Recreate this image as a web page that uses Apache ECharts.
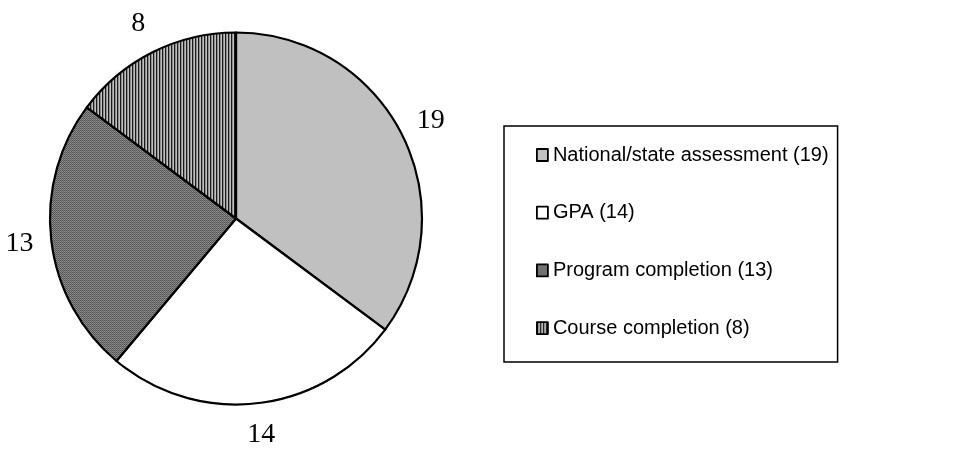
<!DOCTYPE html>
<html>
<head>
<meta charset="utf-8">
<script src="https://cdn.jsdelivr.net/npm/echarts@6/dist/echarts.min.js"></script>
<style>
html,body{margin:0;padding:0;background:#fff;}
#chart{width:956px;height:452px;}
</style>
</head>
<body>
<div id="chart"></div>
<script>
const categories = ['National/state assessment (19)', 'GPA (14)', 'Program completion (13)', 'Course completion (8)'];
const values = [19, 14, 13, 8];

function makePattern(w, h, pixels) {
  const c = document.createElement('canvas');
  c.width = w; c.height = h;
  const ctx = c.getContext('2d');
  for (let y = 0; y < h; y++) {
    for (let x = 0; x < w; x++) {
      ctx.fillStyle = pixels[y][x];
      ctx.fillRect(x, y, 1, 1);
    }
  }
  return { image: c, repeat: 'repeat' };
}

const stripes = makePattern(3, 1, [['#1a1a1a', '#8e8e8e', '#c0c0c0']]);
const dots = makePattern(4, 4, [
  ['#505050', '#808080', '#505050', '#808080'],
  ['#959595', '#606060', '#959595', '#606060'],
  ['#505050', '#808080', '#505050', '#808080'],
  ['#959595', '#606060', '#959595', '#606060']
]);
const fills = ['#c0c0c0', '#ffffff', dots, stripes];

const pieData = categories.map((name, i) => ({
  name: name,
  value: values[i],
  itemStyle: { color: fills[i] }
}));

const chart = echarts.init(document.getElementById('chart'), null, { renderer: 'canvas' });
chart.setOption({
  animation: false,
  backgroundColor: '#ffffff',
  legend: {
    data: categories,
    orient: 'vertical',
    left: 504,
    top: 126,
    padding: [19, 9, 24, 32],
    itemGap: 37.7,
    itemWidth: 11,
    itemHeight: 12,
    icon: 'rect',
    borderColor: '#000',
    borderWidth: 1.5,
    itemStyle: { borderColor: '#000', borderWidth: 1.8 },
    textStyle: { fontFamily: 'Liberation Sans, Arial, sans-serif', fontSize: 20, color: '#000', lineHeight: 20 },
    selectedMode: false
  },
  series: [
    {
      type: 'pie',
      center: [236, 218.5],
      radius: [0, 186],
      startAngle: 90,
      clockwise: true,
      silent: true,
      data: pieData,
      itemStyle: { borderColor: '#000', borderWidth: 2.2 },
      label: { show: false },
      labelLine: { show: false },
      emphasis: { disabled: true }
    },
    {
      type: 'pie',
      center: [236, 218.5],
      radius: [194, 236],
      startAngle: 90,
      clockwise: true,
      silent: true,
      data: categories.map((name, i) => ({ name: name, value: values[i] })),
      itemStyle: { color: 'rgba(0,0,0,0)', borderWidth: 0 },
      label: {
        show: true,
        position: 'inside',
        formatter: p => String(p.value),
        fontFamily: 'Liberation Serif, Times New Roman, serif',
        fontSize: 28,
        color: '#000'
      },
      labelLine: { show: false },
      emphasis: { disabled: true }
    }
  ]
});
</script>
</body>
</html>
